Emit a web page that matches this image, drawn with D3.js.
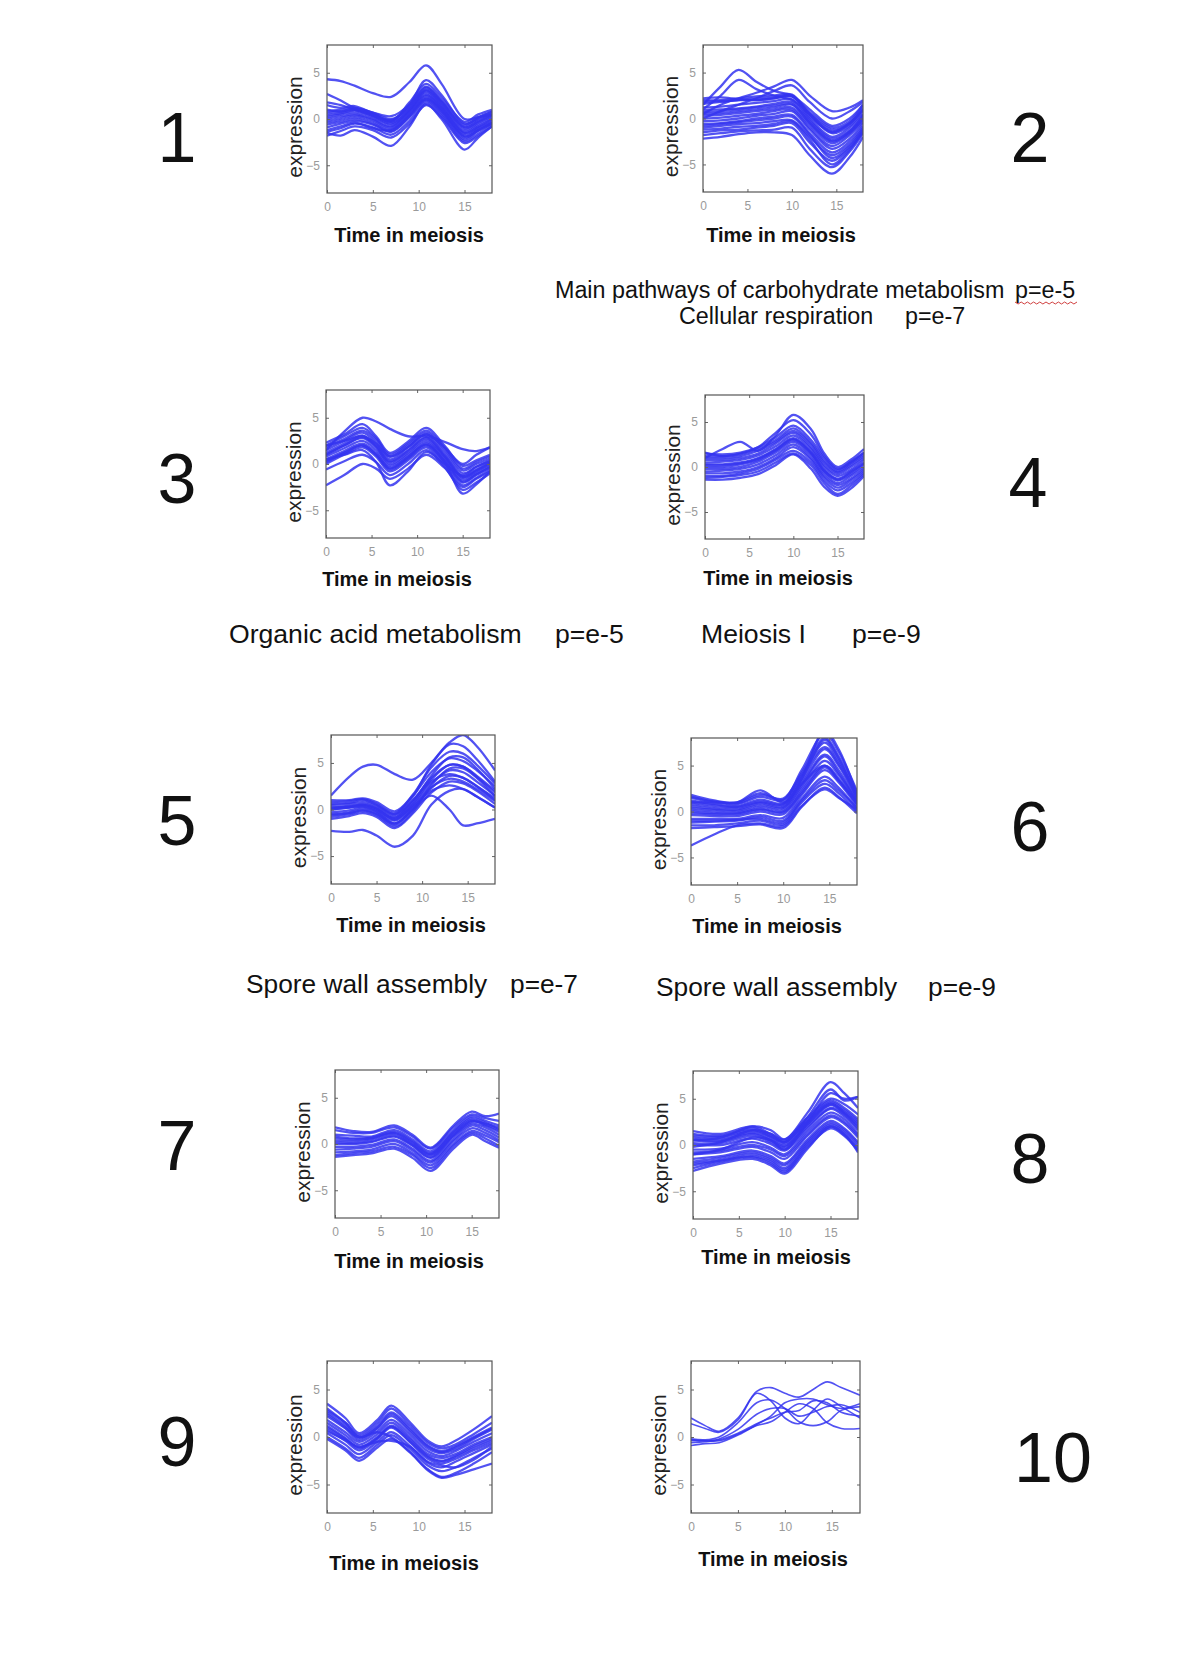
<!DOCTYPE html>
<html><head><meta charset="utf-8">
<script src="https://cdn.jsdelivr.net/npm/d3@7"></script>
<style>
body{margin:0;background:#fff}
svg text{font-family:"Liberation Sans",Arial,Helvetica,sans-serif}
</style></head>
<body><svg id="c" width="1200" height="1657"></svg>
<script>
// ---------- data ----------
const xTicks = [0, 5, 10, 15];
const yTicks = [-5, 0, 5];
const xDomain = [0, 18];
const yDomain = [-8, 8];
const panelNumbers = ["1","2","3","4","5","6","7","8","9","10"];
const yLabel = "expression";
const xLabel = "Time in meiosis";

const times1 = [0,1.5,3,5,7,9,10.8,12.5,15,16.5,18];
const series1 = [
 [0.0,0.3,0.5,0.0,-0.8,0.8,2.6,1.2,-1.5,-0.8,0.0],
 [1.5,1.2,1.4,0.6,-0.2,1.5,3.5,2.0,-0.6,0.2,0.8],
 [-1.8,-1.3,-0.8,-1.2,-2.0,-0.5,1.5,0.2,-2.6,-1.8,-0.8],
 [0.8,1.0,1.2,0.7,0.0,1.2,3.2,1.8,-0.9,-0.2,0.5],
 [-0.9,-0.5,-0.2,-0.6,-1.4,0.2,2.0,0.6,-2.2,-1.3,-0.5],
 [0.4,0.6,0.9,0.3,-0.5,1.0,3.0,1.5,-1.2,-0.4,0.3],
 [-0.4,-0.1,0.2,-0.3,-1.1,0.5,2.3,0.9,-1.8,-1.0,-0.3],
 [1.8,1.5,1.0,0.4,-0.3,1.8,3.8,2.3,-0.3,0.5,1.0],
 [-1.4,-1.0,-0.5,-0.9,-1.7,-0.2,1.8,0.4,-2.4,-1.6,-0.6],
 [0.2,0.5,0.7,0.2,-0.6,0.9,2.8,1.3,-1.4,-0.6,0.1],
 [-1.2,-0.8,-0.4,-1.0,-1.2,0.4,2.2,1.0,-1.9,-1.2,-0.4],
 [1.0,0.8,1.0,0.5,-0.1,1.4,3.4,1.9,-0.8,0.0,0.6],
 [0.6,0.8,1.1,0.5,-0.3,1.1,3.1,1.6,-1.0,-0.3,0.4],
 [-0.6,-0.3,0.0,-0.5,-1.3,0.3,2.1,0.8,-2.0,-1.2,-0.4],
 [-0.2,0.1,0.4,-0.1,-0.9,0.7,2.5,1.1,-1.6,-0.9,-0.1],
 [4.3,4.1,3.6,2.8,2.4,4.0,5.8,3.8,0.0,0.2,0.5],
 [2.7,2.0,1.2,0.7,0.3,1.6,4.2,2.6,-0.5,0.1,0.8],
 [-1.5,-1.8,-1.2,-1.9,-2.9,-0.8,1.6,0.0,-3.3,-2.0,-0.8]
];

const times2 = [0,2,4,6,8,10,12,14.5,16.5,18];
const series2 = [
 [0.5,0.6,0.8,1.0,1.2,1.5,-0.5,-2.5,-1.5,0.0],
 [2.0,2.0,2.2,2.4,2.5,2.6,0.5,-1.2,-0.5,1.2],
 [-1.0,-0.8,-0.6,-0.5,-0.3,-0.2,-2.0,-4.0,-2.8,-1.0],
 [1.2,1.3,1.5,1.7,1.9,2.1,0.0,-2.0,-1.0,0.5],
 [-0.3,-0.2,0.0,0.3,0.5,0.8,-1.2,-3.3,-2.2,-0.5],
 [1.6,1.8,2.0,2.0,2.2,2.4,0.4,-1.6,-0.8,0.8],
 [0.0,0.1,0.3,0.5,0.8,1.0,-1.0,-3.0,-1.8,-0.3],
 [-1.5,-1.3,-1.2,-1.0,-0.8,-0.5,-2.6,-4.6,-3.2,-1.5],
 [0.9,1.0,1.1,1.3,1.6,1.8,-0.2,-2.2,-1.3,0.2],
 [-0.6,-0.5,-0.3,0.0,0.2,0.4,-1.6,-3.7,-2.5,-0.8],
 [2.2,2.3,2.1,2.0,2.2,2.4,0.7,-1.0,-0.3,1.5],
 [0.3,0.4,0.6,0.8,1.0,1.2,-0.7,-2.7,-1.6,-0.1],
 [1.8,1.9,2.0,2.2,2.3,2.5,0.2,-1.4,-0.6,1.0],
 [-0.8,-0.6,-0.4,-0.2,0.0,0.2,-1.8,-4.3,-3.0,-1.2],
 [0.7,0.8,1.0,1.2,1.4,1.6,-0.4,-2.4,-1.4,0.4],
 [-1.2,-1.1,-0.9,-0.8,-0.6,-0.3,-2.3,-5.0,-3.4,-1.3],
 [1.5,3.5,5.3,4.0,3.0,2.5,1.0,-0.8,0.0,1.5],
 [1.0,2.5,4.2,3.2,2.5,2.0,0.5,-1.5,-0.5,1.0],
 [0.5,1.5,2.2,2.8,3.5,4.2,2.5,0.8,1.2,2.0],
 [0.0,0.8,1.5,2.2,3.0,3.6,1.8,0.0,0.8,1.8],
 [-2.2,-2.0,-1.7,-1.5,-1.5,-1.8,-4.0,-6.0,-4.2,-2.0],
 [-1.8,-1.6,-1.4,-1.3,-1.2,-1.0,-3.3,-5.3,-3.6,-1.6]
];

const times3 = [0,2,4,5.5,7,9,11,13,15,16.5,18];
const series3 = [
 [1.0,2.0,2.8,1.8,0.0,1.2,2.6,0.8,-1.5,-0.8,0.0],
 [2.0,3.0,3.9,2.8,1.0,2.2,3.6,1.8,-0.5,0.2,0.8],
 [0.0,1.0,1.8,0.8,-0.8,0.4,1.8,0.0,-2.3,-1.5,-0.6],
 [1.5,2.5,3.4,2.3,0.5,1.8,3.2,1.3,-1.0,-0.3,0.4],
 [0.5,1.4,2.2,1.2,-0.4,0.8,2.1,0.3,-2.0,-1.2,-0.3],
 [2.3,3.2,4.3,3.0,1.2,2.4,3.9,2.0,-0.2,0.4,1.0],
 [-0.6,0.3,1.0,0.2,-1.2,0.0,1.5,-0.3,-2.8,-2.0,-1.0],
 [1.2,2.2,3.1,2.0,0.3,1.5,2.9,1.0,-1.3,-0.6,0.2],
 [0.8,1.7,2.5,1.5,-0.2,1.0,2.4,0.6,-1.7,-1.0,-0.2],
 [1.8,2.7,3.6,2.6,0.8,2.0,3.4,1.6,-0.7,0.0,0.6],
 [0.2,1.2,2.0,1.0,-0.6,0.6,2.0,0.2,-3.2,-2.2,-0.8],
 [1.0,2.0,2.9,1.9,0.2,1.4,2.8,0.9,-1.4,-0.7,0.1],
 [0.3,1.2,2.0,1.0,-0.5,0.7,2.2,0.4,-1.9,-1.1,-0.4],
 [1.5,3.5,5.0,4.6,3.8,3.0,3.0,2.4,1.6,1.4,1.8],
 [-2.3,-1.2,0.0,-0.5,-1.6,-0.5,1.0,-0.4,-2.5,-1.6,-0.8],
 [0.5,1.0,1.5,0.2,-2.3,-0.8,1.3,0.0,-1.2,-0.3,0.3],
 [2.0,2.5,3.0,2.2,0.8,1.8,3.2,1.8,0.0,1.0,1.8]
];

const times4 = [0,2,4,6,8,10,12,13.5,15,16.5,18];
const series4 = [
 [0.0,0.0,0.3,0.8,1.8,3.0,1.5,-0.5,-1.5,-0.8,0.3],
 [1.0,1.0,1.2,1.8,2.8,4.0,2.5,0.5,-0.6,0.2,1.2],
 [-1.0,-1.0,-0.7,-0.2,0.8,1.8,0.5,-1.5,-2.6,-1.8,-0.6],
 [0.5,0.6,0.8,1.3,2.3,3.5,2.0,0.0,-1.0,-0.3,0.8],
 [-0.5,-0.4,-0.2,0.3,1.3,2.5,1.0,-1.0,-2.0,-1.3,-0.2],
 [1.5,1.4,1.6,2.2,3.3,4.6,3.0,1.0,-0.3,0.6,1.6],
 [-1.2,-1.1,-0.9,-0.5,0.5,1.5,0.2,-1.8,-3.0,-2.1,-0.8],
 [0.3,0.3,0.5,1.0,2.0,3.2,1.7,-0.3,-1.3,-0.5,0.5],
 [-0.2,-0.2,0.0,0.6,1.6,2.8,1.3,-0.7,-1.8,-1.0,0.0],
 [0.8,0.8,1.0,1.5,2.6,3.8,2.2,0.2,-0.8,0.0,1.0],
 [0.2,0.2,0.4,0.9,1.9,3.1,1.6,-0.4,-1.4,-0.6,0.4],
 [-0.7,-0.7,-0.5,0.0,1.0,2.2,0.8,-1.2,-2.3,-1.5,-0.4],
 [1.2,1.2,1.4,2.0,3.0,4.3,2.7,0.7,-0.5,0.4,1.4],
 [1.0,2.0,2.8,1.8,3.5,5.8,4.2,1.5,0.0,0.8,2.0],
 [1.6,1.2,1.5,2.2,3.8,5.2,3.6,1.2,-0.2,0.5,1.6],
 [-1.4,-1.4,-1.2,-0.8,0.2,1.4,-0.2,-2.2,-3.2,-2.4,-1.0]
];

const times5 = [0,2,3.5,5,7,9,11,13,14.5,16,18];
const series5 = [
 [0.0,0.2,0.4,0.0,-1.0,0.5,2.8,4.2,4.0,3.0,1.5],
 [1.0,1.0,1.2,0.8,-0.2,1.5,4.0,5.5,5.2,4.2,2.5],
 [-1.0,-0.7,-0.4,-0.8,-2.0,-0.4,1.8,3.0,2.8,2.0,0.6],
 [0.5,0.6,0.8,0.4,-0.6,1.0,3.4,4.8,4.6,3.6,2.0],
 [-0.5,-0.3,0.0,-0.4,-1.5,0.0,2.3,3.6,3.4,2.5,1.0],
 [0.8,0.9,1.1,0.6,-0.4,1.6,4.5,6.2,6.0,4.8,2.8],
 [-0.3,-0.1,0.2,-0.2,-1.2,0.3,2.0,2.6,2.2,1.4,0.2],
 [0.3,0.4,0.6,0.2,-0.8,0.8,3.6,5.6,5.6,4.4,2.2],
 [-0.8,-0.5,-0.2,-0.6,-1.8,-0.2,2.6,4.4,4.4,3.4,1.4],
 [0.6,0.7,1.0,0.5,-0.5,1.4,4.8,7.0,6.8,5.4,3.0],
 [0.2,0.3,0.5,0.1,-0.9,1.0,3.0,3.8,3.4,2.5,1.2],
 [0.1,0.3,0.5,0.1,-1.1,0.6,3.2,4.8,4.6,3.5,1.8],
 [-0.6,-0.4,-0.1,-0.5,-1.6,0.2,2.4,3.3,3.0,2.2,0.9],
 [1.5,3.5,4.6,4.8,3.8,3.2,5.0,7.2,8.0,6.8,4.2],
 [-2.3,-2.4,-2.2,-2.8,-4.0,-2.8,0.5,2.0,2.2,1.4,0.2],
 [0.0,0.2,0.3,-0.2,-1.5,0.0,1.5,0.0,-1.7,-1.5,-1.0]
];

const times6 = [0,2.5,5,7.5,10,12,14.5,16,18];
const series6 = [
 [0.0,-0.2,-0.2,0.3,0.0,2.5,5.5,4.0,1.0],
 [1.5,1.0,0.8,1.6,1.2,4.0,7.5,5.5,1.8],
 [-1.5,-1.5,-1.3,-1.0,-1.4,1.0,3.0,2.0,0.0],
 [0.8,0.5,0.4,1.0,0.7,3.3,6.8,5.0,1.5],
 [-0.8,-0.8,-0.8,-0.4,-0.7,1.8,4.5,3.2,0.6],
 [1.8,1.2,1.0,2.0,1.3,4.5,8.5,6.5,2.2],
 [-1.2,-1.1,-1.0,-0.6,-1.0,1.4,3.8,2.6,0.3],
 [0.4,0.2,0.1,0.7,0.4,3.0,6.2,4.5,1.2],
 [-0.4,-0.5,-0.5,0.0,-0.3,2.2,5.0,3.6,0.8],
 [1.2,0.8,0.6,1.3,0.9,3.8,7.0,5.2,1.6],
 [-1.8,-1.7,-1.6,-1.4,-1.8,0.5,2.6,1.6,-0.2],
 [0.6,0.3,0.2,0.9,0.5,3.6,8.8,6.8,1.8],
 [0.2,0.0,-0.1,0.5,0.2,2.8,6.0,4.2,1.1],
 [-1.0,-1.0,-0.9,-0.8,-1.2,1.2,3.4,2.3,0.4],
 [1.6,1.1,0.9,1.8,1.4,4.2,8.0,6.0,2.0],
 [-0.2,-0.3,-0.3,0.2,-0.1,2.0,4.8,3.4,0.9],
 [1.0,0.7,0.5,1.1,0.8,3.5,7.8,5.8,1.4],
 [-3.7,-2.5,-1.5,-1.3,-1.6,0.6,2.4,1.5,0.2],
 [1.0,1.0,1.0,2.3,1.0,3.0,5.0,3.4,0.8]
];

const times7 = [0,2,4,6.5,8.5,10.5,13,15,16.5,18];
const series7 = [
 [0.0,0.0,0.2,0.8,-0.2,-1.5,0.8,2.2,1.8,1.0],
 [1.5,1.2,1.2,1.8,0.8,-0.5,1.8,3.2,2.8,2.5],
 [-1.2,-1.0,-0.8,-0.3,-1.2,-2.6,-0.2,1.2,0.6,-0.2],
 [0.8,0.6,0.7,1.3,0.3,-1.0,1.3,2.8,2.3,1.6],
 [-0.6,-0.5,-0.3,0.3,-0.7,-2.0,0.3,1.7,1.2,0.4],
 [0.4,0.3,0.5,1.1,0.0,-1.2,1.0,2.5,2.0,1.3],
 [-0.3,-0.3,-0.1,0.5,-0.5,-1.8,0.5,2.0,1.5,0.7],
 [1.8,1.4,1.3,2.0,1.0,-0.4,2.0,3.5,3.0,3.3],
 [-1.4,-1.2,-1.0,-0.5,-1.5,-2.9,-0.5,1.0,0.3,-0.4],
 [0.2,0.1,0.3,0.9,-0.1,-1.4,0.9,2.4,2.2,1.8],
 [1.0,0.9,0.8,1.5,0.5,-0.8,1.5,3.0,2.5,2.0],
 [0.6,0.5,0.6,1.2,0.2,-1.1,1.2,2.6,2.1,1.5],
 [-0.9,-0.8,-0.6,0.0,-1.0,-2.3,0.0,1.4,0.9,0.2]
];

const times8 = [0,3,6.5,8.5,10,12.5,15,16.5,18];
const series8 = [
 [-0.5,-0.4,0.3,-0.3,-1.0,1.5,3.5,2.8,1.2],
 [1.2,1.0,1.8,1.0,0.4,2.8,4.8,4.0,2.8],
 [-2.5,-1.8,-1.3,-2.0,-2.9,-0.2,1.8,1.0,-0.6],
 [0.5,0.4,1.2,0.5,-0.2,2.2,4.3,3.4,2.0],
 [-1.5,-1.2,-0.6,-1.2,-2.0,0.6,2.6,1.8,0.3],
 [0.0,0.0,0.7,0.1,-0.6,1.8,3.9,3.1,1.6],
 [-1.0,-0.8,-0.2,-0.8,-1.5,1.0,3.0,2.3,0.8],
 [1.5,1.2,2.0,1.2,0.6,3.0,5.0,4.4,3.3],
 [-2.0,-1.6,-1.0,-1.6,-2.5,0.2,2.2,1.4,-0.2],
 [0.8,0.7,1.5,0.8,0.1,2.5,4.5,3.6,2.4],
 [-2.8,-2.0,-1.5,-2.2,-3.1,-0.4,2.0,1.2,-0.8],
 [0.2,0.2,1.0,0.3,-0.4,2.0,4.0,3.3,1.8],
 [-0.8,-0.6,0.0,-0.5,-1.2,1.2,3.2,2.5,1.0],
 [1.0,0.9,1.6,0.9,0.3,2.6,4.6,3.8,2.6],
 [-1.8,-1.4,-0.8,-1.4,-2.2,0.4,2.4,1.6,0.1],
 [0.6,0.5,1.3,0.6,-0.1,2.3,4.4,3.5,2.2],
 [-2.2,-1.7,-1.2,-1.8,-2.7,0.0,2.0,1.1,-0.4],
 [0.5,0.8,2.0,1.6,0.6,3.5,6.8,5.6,4.0],
 [-0.2,0.3,1.6,1.2,0.3,3.0,6.0,4.8,5.2],
 [-1.0,-0.5,0.8,0.5,-0.5,2.5,5.6,5.0,5.2]
];

const times9 = [0,2,3.5,5.5,7,9,11,12.5,14,16,18];
const series9 = [
 [1.5,0.2,-0.8,0.3,1.5,0.0,-1.8,-2.2,-1.8,-0.8,0.0],
 [3.0,1.5,0.2,1.5,3.0,1.3,-0.6,-1.2,-0.8,0.3,1.5],
 [0.0,-1.2,-2.2,-0.8,0.2,-1.2,-3.0,-3.6,-3.2,-2.2,-1.2],
 [2.2,0.9,-0.3,0.9,2.2,0.6,-1.2,-1.7,-1.3,-0.2,0.8],
 [0.8,-0.4,-1.4,-0.2,1.0,-0.5,-2.3,-2.8,-2.3,-1.4,-0.6],
 [3.5,2.0,0.4,1.8,3.3,1.6,-0.4,-1.0,-0.4,0.8,2.2],
 [1.2,-0.1,-1.1,0.0,1.2,-0.2,-2.0,-2.5,-2.0,-1.0,-0.2],
 [2.6,1.2,0.0,1.2,2.6,1.0,-0.9,-1.5,-1.0,0.0,1.0],
 [-0.2,-1.4,-2.5,-1.1,-0.2,-1.6,-3.4,-4.2,-3.8,-2.8,-1.6],
 [1.8,0.5,-0.5,0.6,1.8,0.3,-1.5,-2.0,-1.5,-0.5,0.4],
 [0.4,-0.8,-1.8,-0.5,0.5,-0.9,-2.7,-3.2,-2.6,-1.7,-0.8],
 [1.0,-0.2,-1.2,-0.1,1.1,-0.4,-2.1,-2.6,-2.1,-1.2,-0.4],
 [2.4,1.0,-0.1,1.0,2.4,0.8,-1.0,-1.6,-1.1,-0.1,0.9],
 [2.8,1.5,0.0,0.5,0.0,-1.5,-3.5,-4.3,-4.0,-3.4,-2.8],
 [0.6,-0.3,-1.0,-0.5,-0.4,-1.0,-2.6,-3.0,-3.2,-2.4,-1.0]
];

const times10 = [0,1.5,3,5,7,8.5,10,11.5,13,14.5,16,18];
const series10 = [
 [2.0,1.2,0.6,2.0,4.8,5.2,4.6,4.2,5.0,5.8,5.2,4.4],
 [1.4,0.9,0.5,1.8,4.6,3.8,2.0,1.4,2.8,4.0,3.2,2.0],
 [-0.2,-0.3,0.0,1.5,3.6,3.9,3.0,1.6,1.2,1.6,2.8,3.2],
 [-0.3,-0.4,-0.4,0.3,1.2,1.6,2.6,3.5,3.0,1.5,0.9,0.9],
 [-0.9,-0.7,-0.6,0.2,1.3,2.2,3.6,4.0,4.0,3.4,3.0,3.5],
 [-0.4,-0.4,-0.3,0.4,1.4,2.0,2.6,2.8,3.8,3.6,2.6,2.2],
 [-0.6,-0.5,-0.2,0.8,2.4,3.0,3.0,2.2,2.6,3.2,3.4,2.6]
];

const allTimes = [times1,times2,times3,times4,times5,times6,times7,times8,times9,times10];
const allSeries = [series1,series2,series3,series4,series5,series6,series7,series8,series9,series10];

const annotations = [
 {text:"Main pathways of carbohydrate metabolism", x:555, y:298, size:23.3},
 {text:"p=e-5", x:1015, y:298, size:23.3},
 {text:"Cellular respiration", x:679, y:324, size:23.3},
 {text:"p=e-7", x:905, y:324, size:23.3},
 {text:"Organic acid metabolism", x:229, y:643, size:26.6},
 {text:"p=e-5", x:555, y:643, size:26.6},
 {text:"Meiosis I", x:701, y:643, size:26.6},
 {text:"p=e-9", x:852, y:643, size:26.6},
 {text:"Spore wall assembly", x:246, y:993, size:26.3},
 {text:"p=e-7", x:510, y:993, size:26.3},
 {text:"Spore wall assembly", x:656, y:996, size:26.3},
 {text:"p=e-9", x:928, y:996, size:26.3}
];

// ---------- layout ----------
const layout = [
 {x:327,y:45,w:165,h:148, nx:177, ny:162, lx:409, ly:242},
 {x:703,y:45,w:160,h:147, nx:1030,ny:162, lx:781, ly:242},
 {x:326,y:390,w:164,h:148, nx:177, ny:503, lx:397, ly:586},
 {x:705,y:395,w:159,h:144, nx:1028,ny:507, lx:778, ly:585},
 {x:331,y:735,w:164,h:149, nx:177, ny:845, lx:411, ly:932},
 {x:691,y:738,w:166,h:147, nx:1030,ny:851, lx:767, ly:933},
 {x:335,y:1070,w:164,h:148,nx:177, ny:1170,lx:409, ly:1268},
 {x:693,y:1071,w:165,h:148,nx:1030,ny:1183,lx:776, ly:1264},
 {x:327,y:1361,w:165,h:152,nx:177, ny:1466,lx:404, ly:1570},
 {x:691,y:1361,w:169,h:152,nx:1053,ny:1482,lx:773, ly:1566}
];

const svg = d3.select("#c");
const defs = svg.append("defs");

layout.forEach((L, i) => {
  const times = allTimes[i];
  const x = d3.scaleLinear().domain(xDomain).range([L.x, L.x + L.w]);
  const y = d3.scaleLinear().domain(yDomain).range([L.y + L.h, L.y]);
  const g = svg.append("g");

  defs.append("clipPath").attr("id", "clip" + i)
    .append("rect").attr("x", L.x).attr("y", L.y).attr("width", L.w).attr("height", L.h);

  const line = d3.line()
    .x((d, j) => x(times[j]))
    .y(d => y(d))
    .curve(d3.curveCatmullRom.alpha(0.5));

  g.append("g").attr("clip-path", `url(#clip${i})`)
    .selectAll("path").data(allSeries[i]).join("path")
    .attr("d", line)
    .attr("fill", "none")
    .attr("stroke", "#3434f0")
    .attr("stroke-opacity", 0.85)
    .attr("stroke-width", i === 9 ? 1.6 : 2.3);

  // axes
  const bottom = g.append("g").attr("transform", `translate(0,${L.y + L.h})`)
    .call(d3.axisBottom(x).tickValues(xTicks).tickSize(-3).tickPadding(9));
  const left = g.append("g").attr("transform", `translate(${L.x},0)`)
    .call(d3.axisLeft(y).tickValues(yTicks).tickSize(-3).tickPadding(7));
  const top = g.append("g").attr("transform", `translate(0,${L.y})`)
    .call(d3.axisTop(x).tickValues(xTicks).tickSize(-3).tickFormat(""));
  const right = g.append("g").attr("transform", `translate(${L.x + L.w},0)`)
    .call(d3.axisRight(y).tickValues(yTicks).tickSize(-3).tickFormat(""));
  [bottom, left, top, right].forEach(a => {
    a.select(".domain").remove();
    a.selectAll(".tick line").attr("stroke", "#666");
    a.selectAll(".tick text").attr("fill", "#9a9a9a").attr("font-size", 12)
      .attr("font-family", "Liberation Sans, Arial, sans-serif");
  });

  g.append("rect").attr("x", L.x).attr("y", L.y).attr("width", L.w).attr("height", L.h)
    .attr("fill", "none").attr("stroke", "#555").attr("stroke-width", 1.2);

  // y label
  g.append("text")
    .attr("transform", `translate(${L.x - 25},${L.y + L.h / 2 + 8}) rotate(-90)`)
    .attr("text-anchor", "middle")
    .attr("font-size", 21).attr("fill", "#222")
    .text(yLabel);

  // x label
  g.append("text").attr("x", L.lx).attr("y", L.ly)
    .attr("text-anchor", "middle").attr("font-size", 20)
    .attr("font-weight", "bold").attr("fill", "#111")
    .text(xLabel);

  // panel number
  svg.append("text").attr("x", L.nx).attr("y", L.ny)
    .attr("text-anchor", "middle").attr("font-size", 70).attr("fill", "#111")
    .text(panelNumbers[i]);
});

svg.append("g").selectAll("text").data(annotations).join("text")
  .attr("x", d => d.x).attr("y", d => d.y)
  .attr("font-size", d => d.size).attr("fill", "#111")
  .text(d => d.text);

// spell-check squiggle under first p=e-5
(function(){
  const pts = [];
  for (let k = 0; k <= 20; k++) pts.push([1015 + k * 3.1, 302 + (k % 2 ? 2 : 0)]);
  svg.append("path").attr("d", d3.line()(pts)).attr("fill", "none")
    .attr("stroke", "#d04040").attr("stroke-width", 1);
})();
</script></body></html>
